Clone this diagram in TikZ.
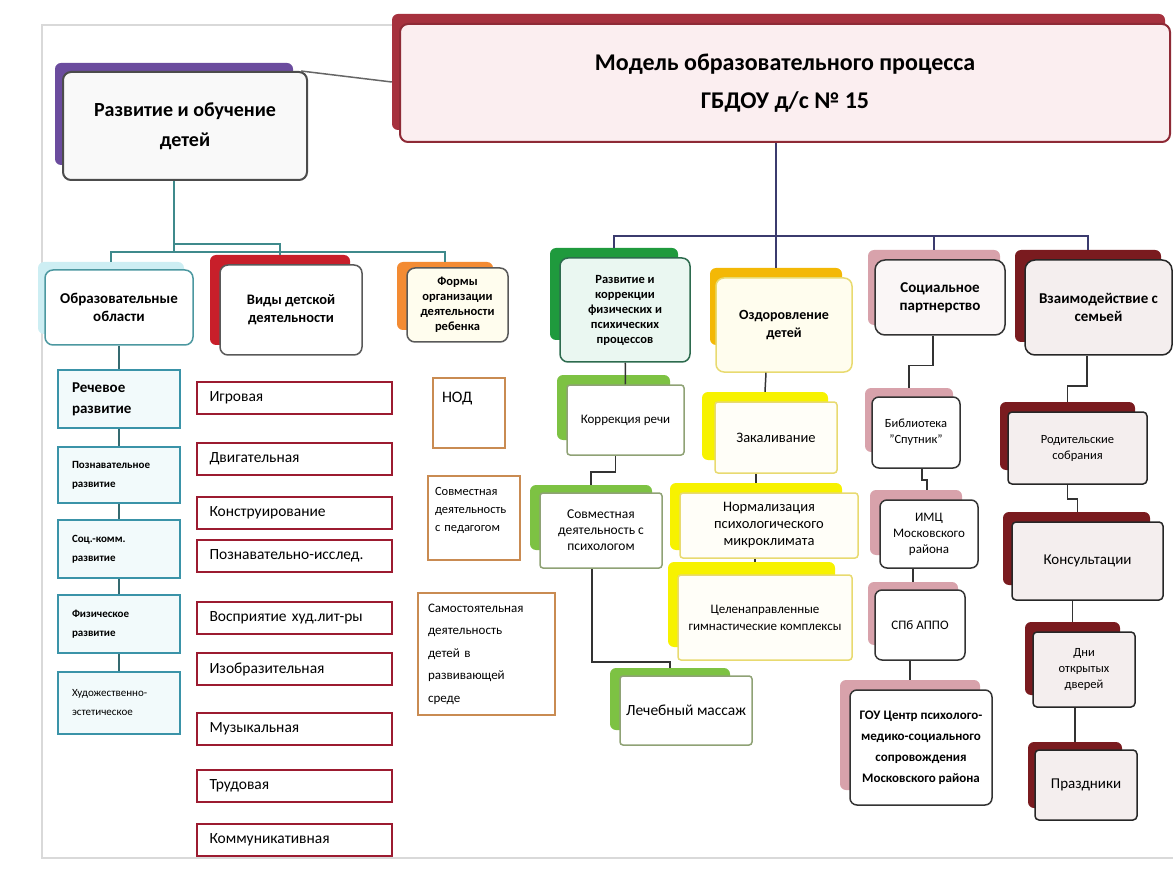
\documentclass[tikz,border=0pt]{standalone}
\usepackage{fontspec}
\setmainfont{Carlito}
\definecolor{hdrred}{HTML}{A6313E}
\definecolor{hdrline}{HTML}{8E2A36}
\definecolor{hdrfill}{HTML}{FBEEF0}
\definecolor{purp}{HTML}{6B4C9E}
\definecolor{tealline}{HTML}{4C98A0}
\definecolor{tealsh}{HTML}{CDEEF3}
\definecolor{tealit}{HTML}{3A93A8}
\definecolor{tealfill}{HTML}{F2FAFB}
\definecolor{redsh}{HTML}{C81F2A}
\definecolor{redit}{HTML}{9C1B30}
\definecolor{orsh}{HTML}{F38B33}
\definecolor{orit}{HTML}{C98B52}
\definecolor{grsh}{HTML}{1F9A3D}
\definecolor{grline}{HTML}{2D6B4E}
\definecolor{grfill}{HTML}{EAF7F1}
\definecolor{ltgr}{HTML}{7DC243}
\definecolor{ltgrline}{HTML}{8FA275}
\definecolor{yelsh}{HTML}{F3B806}
\definecolor{yelline}{HTML}{E8DA70}
\definecolor{yelfill}{HTML}{FFFDEE}
\definecolor{ltyel}{HTML}{F7F200}
\definecolor{pinksh}{HTML}{D8A2AB}
\definecolor{darkred}{HTML}{7A1B1F}
\definecolor{famfill}{HTML}{F4EEEE}
\definecolor{lbuscol}{HTML}{3F8A8C}
\definecolor{rbuscol}{HTML}{3B3B6E}

\begin{document}
\begin{tikzpicture}[x={(1pt,0pt)}, y={(0pt,-1pt)}]
  \tikzstyle{backbox}=[rounded corners=6pt, inner sep=0pt]
  \tikzstyle{card}=[draw, rounded corners=8pt, line width=1.5pt, inner sep=0pt, align=center]
  \tikzstyle{itembox}=[draw, line width=2.5pt, inner sep=0pt]
  \tikzstyle{link}=[line width=1.5pt, black!80]
  \tikzstyle{lbus}=[line width=1.5pt, lbuscol]
  \tikzstyle{rbus}=[line width=1.5pt, rbuscol]
  \useasboundingbox (0,0) rectangle (1173,877);
  \draw[gray!30, line width=2pt] (395,25) -- (42,25) -- (42,858) -- (1173,858);

  \node[backbox, fill=hdrred, minimum width=773pt, minimum height=116pt] (hdr-s) at (778.5,72) {};
  \node[card, draw=hdrline, fill=hdrfill, line width=2pt, minimum width=770pt, minimum height=118pt,
    font=\fontsize{24}{38}\selectfont\bfseries] (hdr) at (785,83)
    {Модель образовательного процесса\\ГБДОУ д/с № 15};

  \node[backbox, fill=purp, minimum width=238pt, minimum height=102pt] (ro-s) at (174,114) {};
  \node[card, draw=black!70, fill=gray!5, line width=2pt, minimum width=244pt, minimum height=108pt,
    font=\fontsize{20}{30}\selectfont\bfseries] (ro) at (185,126) {Развитие и обучение\\детей};
  \draw[link, black!60] ([xshift=-7pt]ro.north east) -- ([yshift=-10pt]hdr-s.west);

  \node[backbox, fill=tealsh, minimum width=146pt, minimum height=72pt] (obl-s) at (111,298) {};
  \node[card, draw=tealline, fill=white, minimum width=148pt, minimum height=75pt,
    font=\fontsize{15}{18}\selectfont\bfseries] (obl) at (119,307.5) {Образовательные\\области};

  \node[backbox, fill=redsh, minimum width=140pt, minimum height=90pt] (vid-s) at (280,300) {};
  \node[card, draw=black!65, fill=white, minimum width=142pt, minimum height=90pt,
    font=\fontsize{14.5}{18}\selectfont\bfseries] (vid) at (291,310) {Виды детской\\деятельности};

  \node[backbox, fill=orsh, minimum width=96pt, minimum height=68pt] (form-s) at (445,296) {};
  \node[card, draw=black!65, fill=yelfill, minimum width=101pt, minimum height=74pt,
    font=\fontsize{12.5}{15}\selectfont\bfseries] (form) at (457.5,305)
    {Формы\\организации\\деятельности\\ребенка};

  \node[backbox, fill=grsh, minimum width=128pt, minimum height=92pt] (grn-s) at (614,294) {};
  \node[card, draw=grline, fill=grfill, minimum width=130pt, minimum height=104pt,
    font=\fontsize{12.5}{15}\selectfont\bfseries] (grn) at (625,310)
    {Развитие и\\коррекции\\физических и\\психических\\процессов};

  \node[backbox, fill=yelsh, minimum width=132pt, minimum height=77pt] (yel-s) at (776,306.5) {};
  \node[card, draw=yelline, fill=yelfill, minimum width=136pt, minimum height=94pt,
    font=\fontsize{14}{18}\selectfont\bfseries] (yel) at (784,325) {Оздоровление\\детей};

  \node[backbox, fill=pinksh, minimum width=132pt, minimum height=75pt] (soc-s) at (934,287.5) {};
  \node[card, draw=black!80, fill=famfill!50, rounded corners=10pt, minimum width=130pt, minimum height=75pt,
    font=\fontsize{15}{18}\selectfont\bfseries] (soc) at (940,297.5) {Социальное\\партнерство};

  \node[backbox, fill=darkred, minimum width=146pt, minimum height=92pt] (fam-s) at (1088,296) {};
  \node[card, draw=black!85, fill=famfill, rounded corners=10pt, minimum width=147pt, minimum height=95pt,
    font=\fontsize{15}{18}\selectfont\bfseries] (fam) at (1098.5,307.5) {Взаимодействие с\\семьей};

  \coordinate (lj) at (174,252);
  \draw[lbus] (ro.south -| lj) -- (lj);
  \draw[lbus] (obl-s.north) |- (lj) -| (form-s.north);
  \draw[lbus] ([yshift=8pt]lj) -| (vid-s.north);

  \coordinate (rj) at (776,236);
  \draw[rbus] (hdr.south -| rj) -- (yel-s.north);
  \draw[rbus] (grn-s.north) |- (rj) -| (fam-s.north);
  \draw[rbus] (soc-s.north) -- (soc-s.north |- rj);

  \node[itembox, draw=tealit, fill=tealfill, minimum width=122pt, minimum height=58pt, align=left, text width=94pt,
    font=\fontsize{15}{21}\selectfont\bfseries] (rech) at (119,399) {Речевое\\развитие};
  \node[itembox, draw=tealit, fill=tealfill, minimum width=122pt, minimum height=56pt, align=left, text width=94pt,
    font=\fontsize{11}{19}\selectfont\bfseries] (pozn) at (119,475) {Познавательное\\развитие};
  \node[itembox, draw=tealit, fill=tealfill, minimum width=122pt, minimum height=58pt, align=left, text width=94pt,
    font=\fontsize{11}{19}\selectfont\bfseries] (socr) at (119,549) {Соц.-комм.\\развитие};
  \node[itembox, draw=tealit, fill=tealfill, minimum width=122pt, minimum height=58pt, align=left, text width=94pt,
    font=\fontsize{11}{19}\selectfont\bfseries] (fizr) at (119,624) {Физическое\\развитие};
  \node[itembox, draw=tealit, fill=tealfill, minimum width=122pt, minimum height=62pt, align=left, text width=94pt,
    font=\fontsize{11}{19}\selectfont] (hudr) at (119,703) {Художественно-\\эстетическое};
  \draw[link, tealline!70!black] (obl) -- (rech);
  \draw[link, tealline!70!black] (rech) -- (pozn);
  \draw[link, tealline!70!black] (pozn) -- (socr);
  \draw[link, tealline!70!black] (socr) -- (fizr);
  \draw[link, tealline!70!black] (fizr) -- (hudr);

  \tikzstyle{vidbox}=[itembox, draw=redit, fill=white, minimum width=195pt, minimum height=32pt,
    align=left, text width=170pt, font=\fontsize{15.5}{17}\selectfont]
  \node[vidbox] (v-igr) at (294.5,398) {Игровая};
  \node[vidbox] (v-dvi) at (294.5,459) {Двигательная};
  \node[vidbox] (v-kon) at (294.5,513) {Конструирование};
  \node[vidbox] (v-poz) at (294.5,556) {Познавательно-исслед.};
  \node[vidbox] (v-vos) at (294.5,618) {Восприятие худ.лит-ры};
  \node[vidbox] (v-izo) at (294.5,669) {Изобразительная};
  \node[vidbox] (v-muz) at (294.5,729) {Музыкальная};
  \node[vidbox] (v-tru) at (294.5,786) {Трудовая};
  \node[vidbox] (v-kom) at (294.5,840) {Коммуникативная};

  \tikzstyle{formbox}=[itembox, draw=orit, fill=white, align=left]
  \node[formbox, minimum width=72pt, minimum height=70pt, text width=54pt,
    font=\fontsize{16}{16}\selectfont] (f-nod) at (469,413) {НОД\\\mbox{}\\\mbox{}};
  \node[formbox, minimum width=92pt, minimum height=84pt, text width=78pt,
    font=\fontsize{12.5}{18}\selectfont] (f-sov) at (474,518)
    {Совместная\\деятельность\\с педагогом\\\mbox{}};
  \node[formbox, minimum width=137pt, minimum height=122pt, text width=117pt,
    font=\fontsize{13}{22.5}\selectfont] (f-sam) at (486.5,654)
    {Самостоятельная\\деятельность\\детей в\\развивающей\\среде};

  \tikzstyle{grbox}=[card, draw=ltgrline, fill=white, rounded corners=3pt]
  \node[backbox, fill=ltgr, minimum width=113pt, minimum height=65pt] (kor-s) at (613.5,407.5) {};
  \node[grbox, minimum width=117pt, minimum height=70pt, font=\fontsize{13}{15}\selectfont] (kor) at (625.5,420) {Коррекция речи};
  \node[backbox, fill=ltgr, minimum width=122pt, minimum height=65pt] (psy-s) at (591,517.5) {};
  \node[grbox, minimum width=122pt, minimum height=75pt, font=\fontsize{13.5}{16}\selectfont] (psy) at (601,530.5)
    {Совместная\\деятельность с\\психологом};
  \node[backbox, fill=ltgr, minimum width=120pt, minimum height=62pt] (mas-s) at (670,699) {};
  \node[grbox, minimum width=132pt, minimum height=69pt, font=\fontsize{15.5}{17}\selectfont] (mas) at (686,710.5) {Лечебный массаж};
  \draw[link] (grn) -- (kor);
  \draw[link] ([xshift=-10pt]kor.south) -- ++(0,16) -| (psy-s.north);
  \draw[link] ([xshift=-9pt]psy.south) -- ++(0,93) -| (mas-s.north);

  \tikzstyle{yelbox}=[card, draw=yelline, fill=white!60!yelfill, rounded corners=3pt]
  \node[backbox, fill=ltyel, minimum width=126pt, minimum height=68pt] (zak-s) at (765,426) {};
  \node[yelbox, minimum width=122pt, minimum height=71pt, font=\fontsize{14.5}{17}\selectfont] (zak) at (776,437.5) {Закаливание};
  \node[backbox, fill=ltyel, minimum width=172pt, minimum height=67pt] (nor-s) at (756,516.5) {};
  \node[yelbox, minimum width=178pt, minimum height=65pt, font=\fontsize{14.5}{17}\selectfont] (nor) at (769,525.5)
    {Нормализация\\психологического\\микроклимата};
  \node[backbox, fill=ltyel, minimum width=167pt, minimum height=85pt] (cel-s) at (751.5,604.5) {};
  \node[yelbox, minimum width=174pt, minimum height=85pt, font=\fontsize{13}{17}\selectfont] (cel) at (765,617.5)
    {Целенаправленные\\гимнастические комплексы};
  \draw[link] ([xshift=-18pt]yel.south) -- (zak-s.north);
  \draw[link] ([xshift=-20pt]zak.south) -- (nor-s.north);
  \draw[link] ([xshift=-14pt]nor.south) -- ([xshift=3.5pt]cel-s.north);

  \tikzstyle{socbox}=[card, draw=black!80, fill=white, rounded corners=7pt]
  \node[backbox, fill=pinksh, minimum width=88pt, minimum height=64pt] (bib-s) at (909,420) {};
  \node[socbox, minimum width=88pt, minimum height=71pt, font=\fontsize{12.5}{16}\selectfont] (bib) at (916,432.5)
    {Библиотека\\"Спутник"};
  \node[backbox, fill=pinksh, minimum width=92pt, minimum height=65pt] (imc-s) at (916,522.5) {};
  \node[socbox, minimum width=98pt, minimum height=68pt, font=\fontsize{13}{16}\selectfont] (imc) at (929,534)
    {ИМЦ\\Московского\\района};
  \node[backbox, fill=pinksh, minimum width=90pt, minimum height=63pt] (spb-s) at (913,613.5) {};
  \node[socbox, minimum width=90pt, minimum height=70pt, font=\fontsize{13}{16}\selectfont] (spb) at (920,625) {СПб АППО};
  \node[backbox, fill=pinksh, minimum width=140pt, minimum height=110pt] (gou-s) at (910,735) {};
  \node[socbox, minimum width=142pt, minimum height=115pt, font=\fontsize{13}{21}\selectfont\bfseries] (gou) at (921,747.5)
    {ГОУ Центр психолого-\\медико-социального\\сопровождения\\Московского района};
  \draw[link] ([xshift=-7pt]soc.south) -- ++(0,30) -| (bib-s.north);
  \draw[link] ([xshift=6pt]bib.south) -- ++(0,11) -| ([xshift=11pt]imc-s.north);
  \draw[link] (imc.south -| spb-s.north) -- (spb-s.north);
  \draw[link] (spb.south -| gou-s.north) -- (gou-s.north);

  \tikzstyle{fambox}=[card, draw=black!85, fill=famfill, rounded corners=4pt]
  \node[backbox, fill=darkred, minimum width=135pt, minimum height=68pt] (rod-s) at (1067.5,436) {};
  \node[fambox, minimum width=139pt, minimum height=72pt, font=\fontsize{12.5}{16}\selectfont] (rod) at (1077.5,448)
    {Родительские\\собрания};
  \node[backbox, fill=darkred, minimum width=147pt, minimum height=73pt] (kon-s) at (1076.5,548.5) {};
  \node[fambox, minimum width=151pt, minimum height=78pt, font=\fontsize{15}{17}\selectfont] (kon) at (1087.5,561) {Консультации};
  \node[backbox, fill=darkred, minimum width=95pt, minimum height=73pt] (dni-s) at (1072.5,658.5) {};
  \node[fambox, minimum width=102pt, minimum height=75pt, font=\fontsize{12.5}{16}\selectfont] (dni) at (1084,669.5)
    {Дни\\открытых\\дверей};
  \node[backbox, fill=darkred, minimum width=94pt, minimum height=66pt] (pra-s) at (1075,775) {};
  \node[fambox, minimum width=102pt, minimum height=70pt, font=\fontsize{15}{17}\selectfont] (pra) at (1086,785) {Праздники};
  \draw[link] ([xshift=-11.5pt]fam.south) -- ++(0,30) -| (rod-s.north);
  \draw[link] ([xshift=-10pt]rod.south) -- ++(0,14) -| ([xshift=1pt]kon-s.north);
  \draw[link] (kon.south -| dni-s.north) -- (dni-s.north);
  \draw[link] (dni.south -| pra-s.north) -- (pra-s.north);
\end{tikzpicture}
\end{document}
